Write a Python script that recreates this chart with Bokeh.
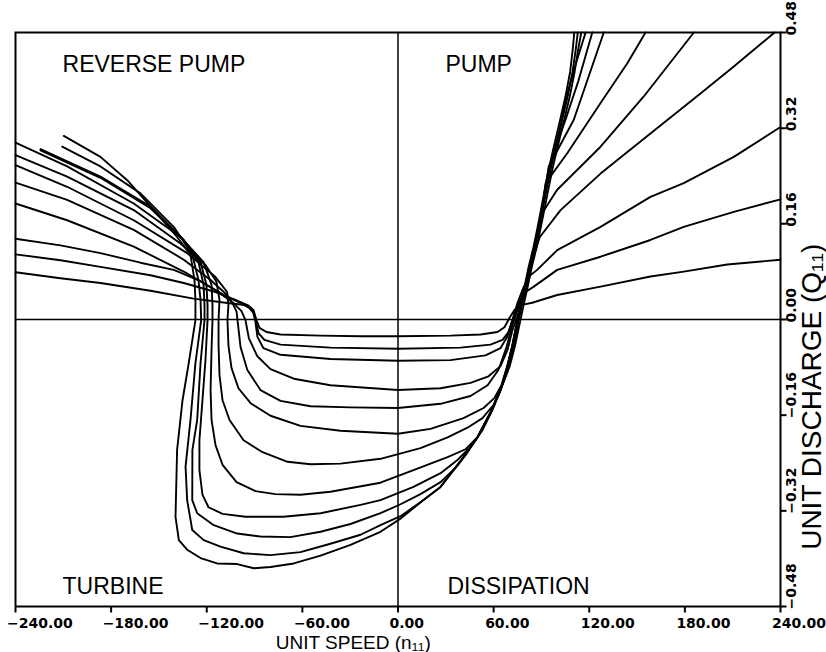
import math
from bokeh.plotting import figure
from bokeh.models import Range1d
from bokeh.core.properties import value
from bokeh.embed import file_html
from bokeh.resources import INLINE

# Four-quadrant characteristic: unit speed n11 (x) vs unit discharge Q11 (y),
# one curve per guide-vane opening, smallest opening first.
x_ticks = [-240, -180, -120, -60, 0, 60, 120, 180, 240]
y_ticks = [-0.48, -0.32, -0.16, 0.0, 0.16, 0.32, 0.48]

g1 = [(-240, 0.079), (-211.8, 0.069), (-186.7, 0.061), (-155.3, 0.048), (-128.3, 0.035), (-108.2, 0.028),
      (-98.8, 0.025), (-93.8, 0.023), (-90.7, 0.016), (-88.8, -0.001), (-86.9, -0.014), (-82.5, -0.021),
      (-73.7, -0.025), (-48.6, -0.027), (-23.5, -0.028), (0, -0.028), (32.9, -0.027), (51.8, -0.025),
      (62.4, -0.021), (66.8, -0.013), (70.0, 0.003), (73.1, 0.016), (76.9, 0.024), (84.2, 0.028),
      (99.9, 0.041), (127.1, 0.055), (158.4, 0.072), (179.3, 0.080), (206.6, 0.092), (240, 0.100)]
g2 = [(-240, 0.109), (-211.8, 0.099), (-186.7, 0.088), (-155.3, 0.074), (-134.4, 0.061), (-114.5, 0.046),
      (-102.0, 0.033), (-94.4, 0.024), (-91.3, 0.016), (-89.4, -0.001), (-87.5, -0.023), (-83.8, -0.034),
      (-73.7, -0.042), (-42.4, -0.047), (0, -0.049), (39.2, -0.047), (58.0, -0.042), (65.6, -0.034),
      (69.3, -0.021), (71.8, -0.001), (75.0, 0.023), (78.8, 0.044), (85.2, 0.055), (99.9, 0.083),
      (127.1, 0.105), (158.4, 0.133), (179.3, 0.155), (210.7, 0.180), (240, 0.201)]
g3 = [(-240, 0.135), (-211.8, 0.124), (-186.7, 0.111), (-161.6, 0.095), (-140.7, 0.083), (-123.9, 0.064),
      (-107.2, 0.038), (-98.8, 0.028), (-93.2, 0.019), (-90.7, 0.011), (-89.6, -0.001), (-88.2, -0.029),
      (-84.4, -0.048), (-73.7, -0.059), (-42.4, -0.066), (0, -0.069), (32.9, -0.068), (54.9, -0.060),
      (64.3, -0.048), (68.7, -0.028), (71.8, -0.001), (75.0, 0.028), (78.8, 0.054), (83.1, 0.074),
      (87.3, 0.083), (99.9, 0.116), (127.1, 0.155), (158.4, 0.205), (179.3, 0.228), (210.7, 0.272),
      (240, 0.322)]
g4 = [(-240, 0.194), (-207.6, 0.166), (-165.8, 0.122), (-132.3, 0.077), (-114.5, 0.049), (-103.9, 0.029),
      (-98.2, 0.014), (-95.7, -0.001), (-93.6, -0.031), (-88.4, -0.061), (-80.0, -0.083), (-65.4, -0.099),
      (-42.4, -0.110), (0, -0.118), (26.7, -0.115), (45.5, -0.106), (56.8, -0.095), (64.3, -0.078),
      (68.7, -0.051), (71.8, -0.018), (75.0, 0.006), (77.5, 0.024), (80.0, 0.049), (82.5, 0.074),
      (85.0, 0.105), (87.5, 0.126), (89.0, 0.138), (102.0, 0.183), (127.1, 0.244), (158.4, 0.311),
      (189.8, 0.378), (210.7, 0.423), (236.3, 0.480)]
g5 = [(-240, 0.229), (-207.6, 0.200), (-165.8, 0.150), (-134.4, 0.100), (-117.6, 0.066), (-107.2, 0.041),
      (-103.2, 0.024), (-101.3, 0.013), (-100.7, -0.001), (-98.8, -0.046), (-94.6, -0.084), (-86.3, -0.118),
      (-73.7, -0.136), (-54.9, -0.145), (-29.8, -0.147), (0, -0.148), (26.7, -0.141), (45.5, -0.128),
      (56.2, -0.110), (63.1, -0.084), (68.1, -0.046), (71.8, -0.009), (75.0, 0.016), (77.5, 0.036),
      (80.0, 0.059), (82.5, 0.086), (85.0, 0.116), (87.5, 0.146), (90.5, 0.178), (99.9, 0.217),
      (127.1, 0.289), (154.2, 0.373), (185.6, 0.480)]
g6 = [(-240, 0.258), (-207.6, 0.222), (-165.8, 0.166), (-132.3, 0.111), (-114.5, 0.071), (-107.2, 0.046),
      (-106.4, 0.024), (-107.0, -0.001), (-106.4, -0.043), (-104.5, -0.081), (-100.1, -0.115), (-92.5, -0.140),
      (-80.0, -0.161), (-61.2, -0.178), (-36.1, -0.186), (0, -0.191), (20.4, -0.183), (41.1, -0.165),
      (53.7, -0.148), (60.6, -0.131), (64.9, -0.110), (68.7, -0.076), (71.8, -0.043), (74.4, -0.009),
      (76.9, 0.019), (79.4, 0.046), (81.9, 0.074), (84.4, 0.103), (86.9, 0.133), (89.4, 0.163),
      (91.3, 0.200), (92.6, 0.228), (106.2, 0.278), (127.1, 0.362), (143.8, 0.428), (155.3, 0.480)]
g7 = [(-240, 0.275), (-207.6, 0.239), (-165.8, 0.183), (-136.5, 0.127), (-120.8, 0.091), (-113.9, 0.063),
      (-112.0, 0.033), (-112.6, -0.001), (-112.6, -0.043), (-112.0, -0.093), (-110.1, -0.135), (-105.7, -0.168),
      (-96.9, -0.202), (-85.0, -0.222), (-69.3, -0.238), (-54.9, -0.242), (-36.1, -0.241), (-11.0, -0.233),
      (14.1, -0.215), (31.1, -0.197), (43.6, -0.181), (53.0, -0.165), (59.9, -0.143), (64.3, -0.118),
      (68.1, -0.084), (71.2, -0.051), (73.7, -0.018), (76.2, 0.013), (78.8, 0.041), (81.3, 0.069),
      (83.8, 0.100), (86.3, 0.130), (88.8, 0.163), (91.3, 0.200), (93.2, 0.233), (94.6, 0.256),
      (110.3, 0.334), (129.1, 0.480)]
g8 = [(-240, 0.296), (-207.6, 0.256), (-165.8, 0.194), (-136.5, 0.138), (-122.0, 0.096), (-117.0, 0.058),
      (-116.4, 0.024), (-116.4, -0.001), (-117.0, -0.051), (-117.6, -0.118), (-117.0, -0.168), (-114.5, -0.210),
      (-110.1, -0.243), (-101.3, -0.272), (-89.4, -0.287), (-76.9, -0.292), (-61.2, -0.293), (-42.4, -0.288),
      (-11.0, -0.273), (9.7, -0.252), (31.1, -0.230), (42.4, -0.217), (49.9, -0.197), (58.0, -0.156),
      (64.3, -0.118), (69.3, -0.079), (72.5, -0.043), (75.0, -0.009), (77.5, 0.024), (80.0, 0.054),
      (82.5, 0.086), (85.7, 0.121), (88.2, 0.153), (90.7, 0.186), (93.2, 0.220), (95.7, 0.253),
      (98.8, 0.287), (105.1, 0.334), (113.3, 0.400), (121.9, 0.480)]
g9 = [(-224.3, 0.285), (-186.7, 0.239), (-155.3, 0.189), (-134.4, 0.133), (-123.9, 0.096), (-120.2, 0.058),
      (-119.5, 0.024), (-119.5, -0.001), (-120.8, -0.068), (-122.7, -0.135), (-124.6, -0.202), (-124.6, -0.252),
      (-122.7, -0.293), (-118.9, -0.314), (-110.1, -0.325), (-95.7, -0.330), (-71.8, -0.330), (-48.6, -0.324),
      (-23.5, -0.310), (-11.0, -0.302), (9.7, -0.280), (26.7, -0.257), (37.3, -0.235), (45.5, -0.213),
      (53.0, -0.185), (59.3, -0.151), (64.3, -0.118), (69.3, -0.079), (72.5, -0.043), (75.0, -0.009),
      (77.5, 0.024), (80.0, 0.054), (82.5, 0.086), (85.7, 0.121), (88.2, 0.153), (90.7, 0.186),
      (93.2, 0.220), (95.7, 0.253), (98.8, 0.288), (102.6, 0.330), (105.1, 0.367), (111.4, 0.426),
      (117.7, 0.480)]
g10 = [(-224.3, 0.283), (-186.7, 0.237), (-155.3, 0.186), (-134.6, 0.133), (-125.2, 0.096), (-122.0, 0.058),
       (-121.4, 0.024), (-121.4, -0.001), (-123.9, -0.073), (-126.0, -0.168), (-129.0, -0.218), (-129.1, -0.302),
       (-126.0, -0.324), (-115.6, -0.344), (-100.9, -0.358), (-86.3, -0.363), (-67.5, -0.364), (-48.6, -0.355),
       (-29.8, -0.342), (-11.0, -0.324), (1.6, -0.309), (14.1, -0.292), (26.7, -0.272), (36.1, -0.248),
       (42.4, -0.227), (49.9, -0.197), (58.0, -0.156), (64.3, -0.118), (68.6, -0.079), (71.8, -0.043),
       (74.3, -0.009), (76.8, 0.024), (79.3, 0.054), (81.8, 0.086), (85.0, 0.121), (87.5, 0.153),
       (89.9, 0.186), (92.3, 0.220), (94.7, 0.253), (97.7, 0.288), (101.4, 0.330), (105.0, 0.372),
       (108.0, 0.414), (109.6, 0.451), (110.6, 0.480)]
g11 = [(-210.7, 0.289), (-186.7, 0.256), (-161.6, 0.211), (-140.7, 0.155), (-129.0, 0.108), (-125.2, 0.066),
       (-123.9, 0.033), (-123.5, -0.001), (-127.1, -0.073), (-130.2, -0.168), (-133.3, -0.246), (-132.3, -0.302),
       (-129.1, -0.352), (-121.9, -0.369), (-111.4, -0.380), (-96.8, -0.391), (-80.0, -0.394), (-61.2, -0.389),
       (-42.4, -0.375), (-23.5, -0.360), (-11.0, -0.344), (1.6, -0.329), (16.0, -0.302), (26.7, -0.280),
       (39.2, -0.237), (49.9, -0.197), (58.0, -0.156), (64.3, -0.118), (69.3, -0.079), (72.5, -0.043),
       (75.0, -0.009), (77.5, 0.024), (80.0, 0.054), (82.5, 0.086), (85.7, 0.121), (88.2, 0.153),
       (90.7, 0.186), (93.2, 0.220), (95.7, 0.253), (98.8, 0.288), (102.6, 0.330), (106.4, 0.372),
       (109.5, 0.414), (111.5, 0.451), (112.8, 0.480)]
g12 = [(-209.7, 0.307), (-186.7, 0.272), (-169.9, 0.233), (-155.3, 0.189), (-138.6, 0.138), (-130.2, 0.108),
       (-127.7, 0.066), (-127.1, 0.033), (-127.1, -0.001), (-131.3, -0.073), (-135.2, -0.135), (-138.6, -0.218),
       (-139.6, -0.330), (-137.5, -0.369), (-132.3, -0.385), (-123.9, -0.399), (-113.5, -0.408), (-100.9, -0.409),
       (-90.5, -0.416), (-80.0, -0.414), (-65.4, -0.408), (-48.6, -0.395), (-29.8, -0.377), (-11.0, -0.355),
       (1.6, -0.333), (16.0, -0.302), (26.7, -0.280), (39.2, -0.237), (49.9, -0.197), (58.0, -0.156),
       (64.3, -0.118), (70.0, -0.079), (73.5, -0.043), (76.2, -0.009), (78.8, 0.024), (81.3, 0.054),
       (83.8, 0.086), (87.0, 0.121), (89.5, 0.153), (92.0, 0.186), (94.5, 0.220), (97.0, 0.253),
       (100.1, 0.288), (103.9, 0.330), (107.7, 0.372), (110.8, 0.414), (113.0, 0.451), (115.0, 0.480)]

openings = [g1, g2, g3, g4, g5, g6, g7, g8, g9, g10, g11, g12]

quadrant_names = ["REVERSE PUMP", "PUMP", "TURBINE", "DISSIPATION"]
quadrant_x = [-210.5, 29.8, -210.5, 31.0]
quadrant_y = [0.428, 0.428, -0.446, -0.446]

x_title = "UNIT SPEED (n\u2081\u2081)"
y_title = "UNIT DISCHARGE (Q\u2081\u2081)"

# ---- layout: the plotting box sits inside a canvas-wide frame so that the
# axis texts drawn around it are not clipped
W, H = 826, 652
BOX_L, BOX_R, BOX_T, BOX_B = 15, 780, 32, 606
XMIN, XMAX = x_ticks[0], x_ticks[-1]
YMIN, YMAX = y_ticks[0], y_ticks[-1]
sx = (BOX_R - BOX_L) / (XMAX - XMIN)      # px per n11 unit
sy = (BOX_B - BOX_T) / (YMAX - YMIN)      # px per Q11 unit

p = figure(width=W, height=H,
           x_range=Range1d(XMIN - BOX_L / sx, XMAX + (W - BOX_R) / sx),
           y_range=Range1d(YMIN - (H - BOX_B) / sy, YMAX + BOX_T / sy),
           x_axis_location=None, y_axis_location=None,
           output_backend="svg", toolbar_location=None, min_border=0)
p.grid.visible = False
p.outline_line_color = None
p.background_fill_color = "white"
p.border_fill_color = "white"

INK = "black"

# characteristic curves
for g in openings:
    xs = [pt[0] for pt in g]
    ys = [pt[1] for pt in g]
    p.line(xs, ys, line_color=INK, line_width=1.9, line_join="round", line_cap="round")

# quadrant separators
p.line([0, 0], [YMIN, YMAX], line_color=INK, line_width=1.5)
p.line([XMIN, XMAX], [0, 0], line_color=INK, line_width=1.5)

# plotting box
p.line([XMIN, XMAX, XMAX, XMIN, XMIN], [YMIN, YMIN, YMAX, YMAX, YMIN],
       line_color=INK, line_width=2, line_join="miter")

# bottom axis: ticks and labels (labels start just left of their tick)
tick_len = 6
p.segment(x0=x_ticks, y0=[YMIN] * len(x_ticks), x1=x_ticks,
          y1=[YMIN - tick_len / sy] * len(x_ticks), line_color=INK, line_width=2)
x_labels = [f"{v:.2f}".replace("-", "\u2212") for v in x_ticks]
p.text(x=[v - 8.5 / sx for v in x_ticks], y=[YMIN - 11 / sy] * len(x_ticks), text=x_labels,
       text_align="left", text_baseline="top", text_font=value("DejaVu Sans"),
       text_font_style="bold", text_font_size="14px", text_color=INK)

# right axis: ticks and rotated labels
p.segment(x0=[XMAX] * len(y_ticks), y0=y_ticks, x1=[XMAX + tick_len / sx] * len(y_ticks),
          y1=y_ticks, line_color=INK, line_width=2)
y_labels = [f"{v:.2f}".replace("-", "\u2212") for v in y_ticks]
p.text(x=[XMAX + 10 / sx] * len(y_ticks), y=[v - 3 / sy for v in y_ticks], text=y_labels,
       angle=math.pi / 2, text_align="left", text_baseline="middle",
       text_font=value("DejaVu Sans"), text_font_style="bold", text_font_size="14px",
       text_color=INK)

# axis titles
p.text(x=[XMIN + (353 - BOX_L) / sx], y=[YMIN - (642 - BOX_B) / sy], text=[x_title],
       text_align="center", text_baseline="alphabetic", text_font=value("Liberation Sans"),
       text_font_size="19px", text_color=INK)
p.text(x=[XMAX + (811 - BOX_R) / sx], y=[YMAX - (396 - BOX_T) / sy], text=[y_title],
       angle=math.pi / 2, text_align="center", text_baseline="middle",
       text_font=value("Liberation Sans"), text_font_size="28px", text_color=INK)

# quadrant names
p.text(x=quadrant_x, y=quadrant_y, text=quadrant_names, text_baseline="alphabetic",
       text_font=value("Liberation Sans"), text_font_size="23px", text_color=INK)

open("out.html", "w").write(file_html(p, INLINE))
